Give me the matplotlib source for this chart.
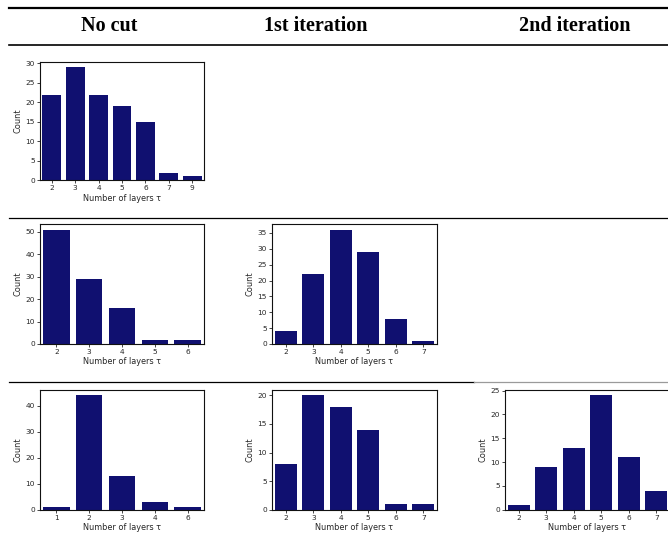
import matplotlib
matplotlib.use("Agg")
import matplotlib.pyplot as plt
from matplotlib.lines import Line2D
from matplotlib.ticker import MultipleLocator

# Layer-count distributions per configuration
nocut_a_layers = ["2", "3", "4", "5", "6", "7", "9"]
nocut_a_counts = [22, 29, 22, 19, 15, 2, 1]

nocut_b_layers = ["2", "3", "4", "5", "6"]
nocut_b_counts = [51, 29, 16, 2, 2]
iter1_b_layers = ["2", "3", "4", "5", "6", "7"]
iter1_b_counts = [4, 22, 36, 29, 8, 1]

nocut_c_layers = ["1", "2", "3", "4", "6"]
nocut_c_counts = [1, 44, 13, 3, 1]
iter1_c_layers = ["2", "3", "4", "5", "6", "7"]
iter1_c_counts = [8, 20, 18, 14, 1, 1]
iter2_c_layers = ["2", "3", "4", "5", "6", "7"]
iter2_c_counts = [1, 9, 13, 24, 11, 4]

column_titles = ["No cut", "1st iteration", "2nd iteration"]

W, H = 668, 548
BAR_COLOR = "#101070"
INK = "#262626"

fig = plt.figure(figsize=(W / 100, H / 100), dpi=100)
fig.patch.set_facecolor("white")


def px_axes(x0, y0, x1, y1):
    return fig.add_axes([x0 / W, 1 - y1 / H, (x1 - x0) / W, (y1 - y0) / H])


def hrule(x0, x1, y, lw, color="black"):
    fig.add_artist(Line2D([x0 / W, x1 / W], [1 - y / H, 1 - y / H],
                          transform=fig.transFigure, color=color, lw=lw))


def count_panel(box, layers, counts, step):
    ax = px_axes(*box)
    ax.bar(range(len(layers)), counts, width=0.8, color=BAR_COLOR, linewidth=0)
    ax.set_xticks(range(len(layers)))
    ax.set_xticklabels(layers)
    ax.set_xlim(-0.5, len(layers) - 0.5)
    ax.set_ylim(0, max(counts) * 1.05)
    ax.yaxis.set_major_locator(MultipleLocator(step))
    ax.tick_params(labelsize=5.3, length=2.2, width=0.6, pad=1.5,
                   colors=INK)
    for s in ax.spines.values():
        s.set_linewidth(0.8)
        s.set_color("#111111")
    ax.set_ylabel("Count", fontsize=5.9, color=INK, labelpad=2)
    ax.set_xlabel("Number of layers τ", fontsize=5.9, color=INK,
                  labelpad=1.5)
    return ax


# table rules
hrule(9, W, 7.5, 1.6)
hrule(9, W, 45, 1.2)
hrule(9, W, 217.5, 0.9)
hrule(9, 474, 382, 0.9)
hrule(474, W, 382, 0.9, color="#9a9a9a")

# column headers
for xc, title in zip([109, 316, 575], column_titles):
    fig.text(xc / W, 1 - 26 / H, title, ha="center", va="center",
             fontsize=14.5, fontweight="bold", family="Liberation Serif")

# row 1
count_panel((40, 61.7, 204, 180.3), nocut_a_layers, nocut_a_counts, 5)
# row 2
count_panel((40, 224, 204, 344), nocut_b_layers, nocut_b_counts, 10)
count_panel((272, 224, 437, 344), iter1_b_layers, iter1_b_counts, 5)
# row 3
count_panel((40, 389.7, 204, 509.7), nocut_c_layers, nocut_c_counts, 10)
count_panel((272, 389.7, 437, 509.7), iter1_c_layers, iter1_c_counts, 5)
count_panel((505, 389.7, 670, 509.7), iter2_c_layers, iter2_c_counts, 5)

fig.savefig("out.png", dpi=100)
